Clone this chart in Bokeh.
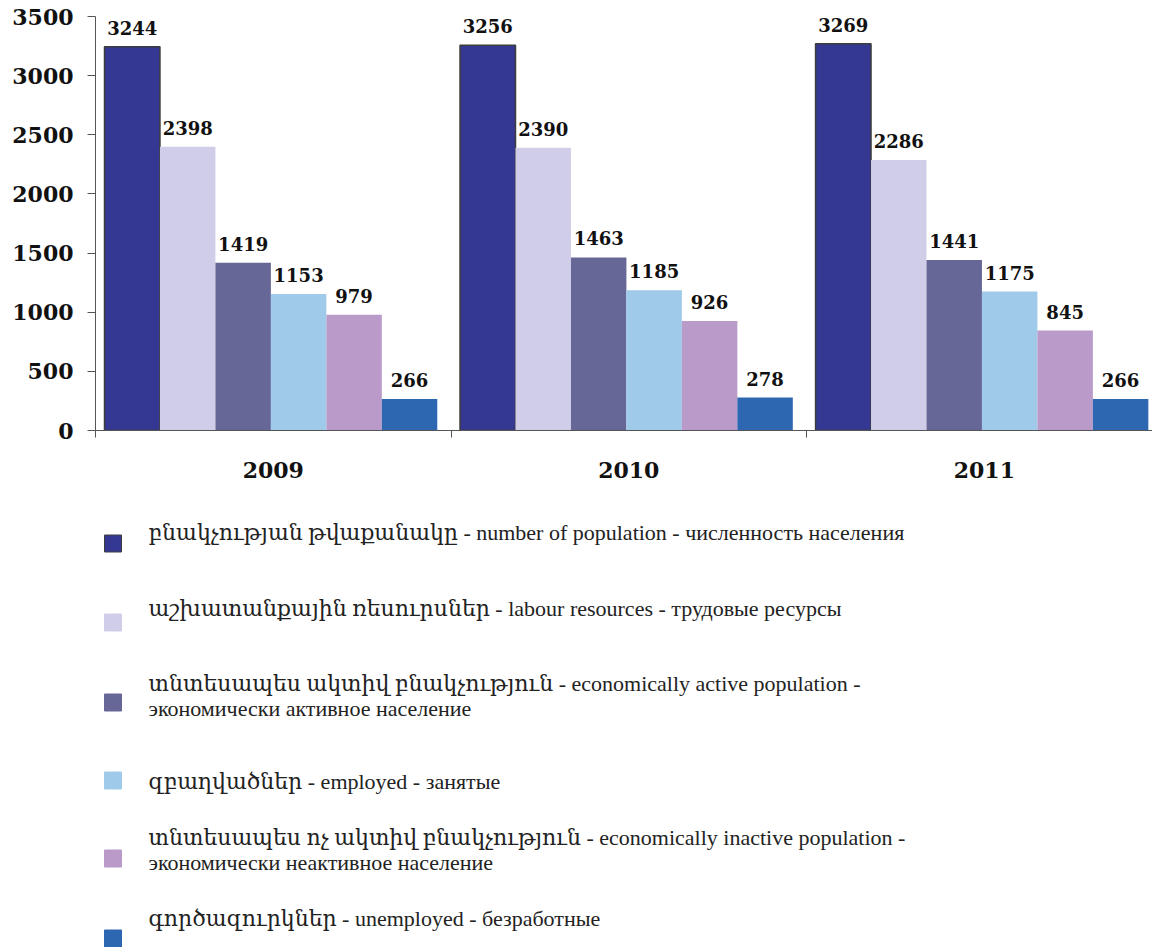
from bokeh.plotting import figure
from bokeh.models import Range1d, FixedTicker, ColumnDataSource
from bokeh.layouts import column
from bokeh.embed import file_html
from bokeh.resources import INLINE
from bokeh.core.properties import value

# ---------------- data ----------------
years = ["2009", "2010", "2011"]
population = [3244, 3256, 3269]
labour = [2398, 2390, 2286]
active = [1419, 1463, 1441]
employed = [1153, 1185, 1175]
inactive = [979, 926, 845]
unemployed = [266, 278, 266]
y_ticks = [0, 500, 1000, 1500, 2000, 2500, 3000, 3500]

series_labels = [
    "բնակչության թվաքանակը - number of population - численность населения",
    "աշխատանքային ռեսուրսներ - labour resources - трудовые ресурсы",
    "տնտեսապես ակտիվ բնակչություն - economically active population -\nэкономически активное население",
    " զբաղվածներ -  employed  - занятые",
    "տնտեսապես ոչ ակտիվ բնակչություն - economically inactive population -\nэкономически неактивное население",
    "գործազուրկներ - unemployed - безработные",
]
series_values = [population, labour, active, employed, inactive, unemployed]

# ---------------- styles ----------------
colors = ["#343893", "#CFCDE8", "#676797", "#A0CAEA", "#B99AC8", "#2E67B1"]
outline = ["#3c3c3c", None, None, None, None, None]
axis_col = "#555555"
num_font = "DejaVu Serif"
leg_font = "'Liberation Serif', 'DejaVu Serif', serif"

W = 1152
LEFT = 95
group_pad = 0.0253
bar_w = 0.156

p = figure(width=W, height=498, x_range=Range1d(0, 2.973), y_range=Range1d(0, 3500),
           toolbar_location=None, output_backend="svg",
           min_border_left=LEFT, min_border_right=0, min_border_top=16, min_border_bottom=68)
p.outline_line_color = None
p.grid.grid_line_color = None
p.background_fill_color = "white"

for i, vals in enumerate(series_values):
    xs = [g + group_pad + bar_w * (i + 0.5) for g in range(len(years))]
    src = ColumnDataSource(dict(x=xs, top=vals, lbl=[str(v) for v in vals]))
    p.vbar(x="x", top="top", bottom=0, width=bar_w, source=src,
           fill_color=colors[i], line_color=outline[i], line_width=1.5 if outline[i] else 0)
    p.text(x="x", y="top", text="lbl", source=src, text_align="center",
           text_baseline="middle", y_offset=-19,
           text_font=value(num_font), text_font_style="bold",
           text_font_size="18px", text_color="#111111")

# y axis
p.yaxis.ticker = FixedTicker(ticks=y_ticks)
p.yaxis.major_tick_in = 0
p.yaxis.major_tick_out = 8
p.yaxis.minor_tick_line_color = None
p.yaxis.axis_line_color = axis_col
p.yaxis.major_tick_line_color = axis_col
p.yaxis.major_label_text_font = num_font
p.yaxis.major_label_text_font_style = "bold"
p.yaxis.major_label_text_font_size = "22px"
p.yaxis.major_label_text_color = "#111111"
p.yaxis.major_label_standoff = 14

# x axis: labels at group centers, ticks at group boundaries
centers = [g + 0.5 for g in range(len(years))]
bounds = list(range(len(years) + 1))
p.xaxis.ticker = FixedTicker(ticks=centers, minor_ticks=bounds)
p.xaxis.major_label_overrides = {c: y for c, y in zip(centers, years)}
p.xaxis.major_tick_line_color = None
p.xaxis.major_tick_out = 0
p.xaxis.major_tick_in = 0
p.xaxis.minor_tick_in = 0
p.xaxis.minor_tick_out = 7
p.xaxis.minor_tick_line_color = axis_col
p.xaxis.axis_line_color = axis_col
p.xaxis.major_label_text_font = num_font
p.xaxis.major_label_text_font_style = "bold"
p.xaxis.major_label_text_font_size = "22px"
p.xaxis.major_label_text_color = "#111111"
p.xaxis.major_label_standoff = 24

# ---------------- legend (screen-pixel coordinates) ----------------
LH = 449
leg = figure(width=W, height=LH, x_range=Range1d(LEFT, W), y_range=Range1d(LH, 0),
             toolbar_location=None, output_backend="svg",
             x_axis_type=None, y_axis_type=None,
             min_border_left=LEFT, min_border_right=0, min_border_top=0, min_border_bottom=0)
leg.outline_line_color = None
leg.grid.grid_line_color = None

sq_y = [45, 124, 204, 282, 360, 440]
txt_y = [21, 97, 172, 270, 326, 407]
sq_src = ColumnDataSource(dict(x=[112.5] * 6, y=sq_y, c=colors,
                               lc=[o if o else c for o, c in zip(outline, colors)]))
leg.rect(x="x", y="y", width=17, height=17, source=sq_src, fill_color="c", line_color="lc",
         line_width=1)
txt_src = ColumnDataSource(dict(x=[148] * 6, y=txt_y, t=series_labels))
leg.text(x="x", y="y", text="t", source=txt_src, text_align="left", text_baseline="top",
         text_font=value(leg_font), text_font_size="22px", text_color="#222222",
         text_line_height=1.03)

layout = column(p, leg, spacing=0)
open("out.html", "w").write(file_html(layout, INLINE))
